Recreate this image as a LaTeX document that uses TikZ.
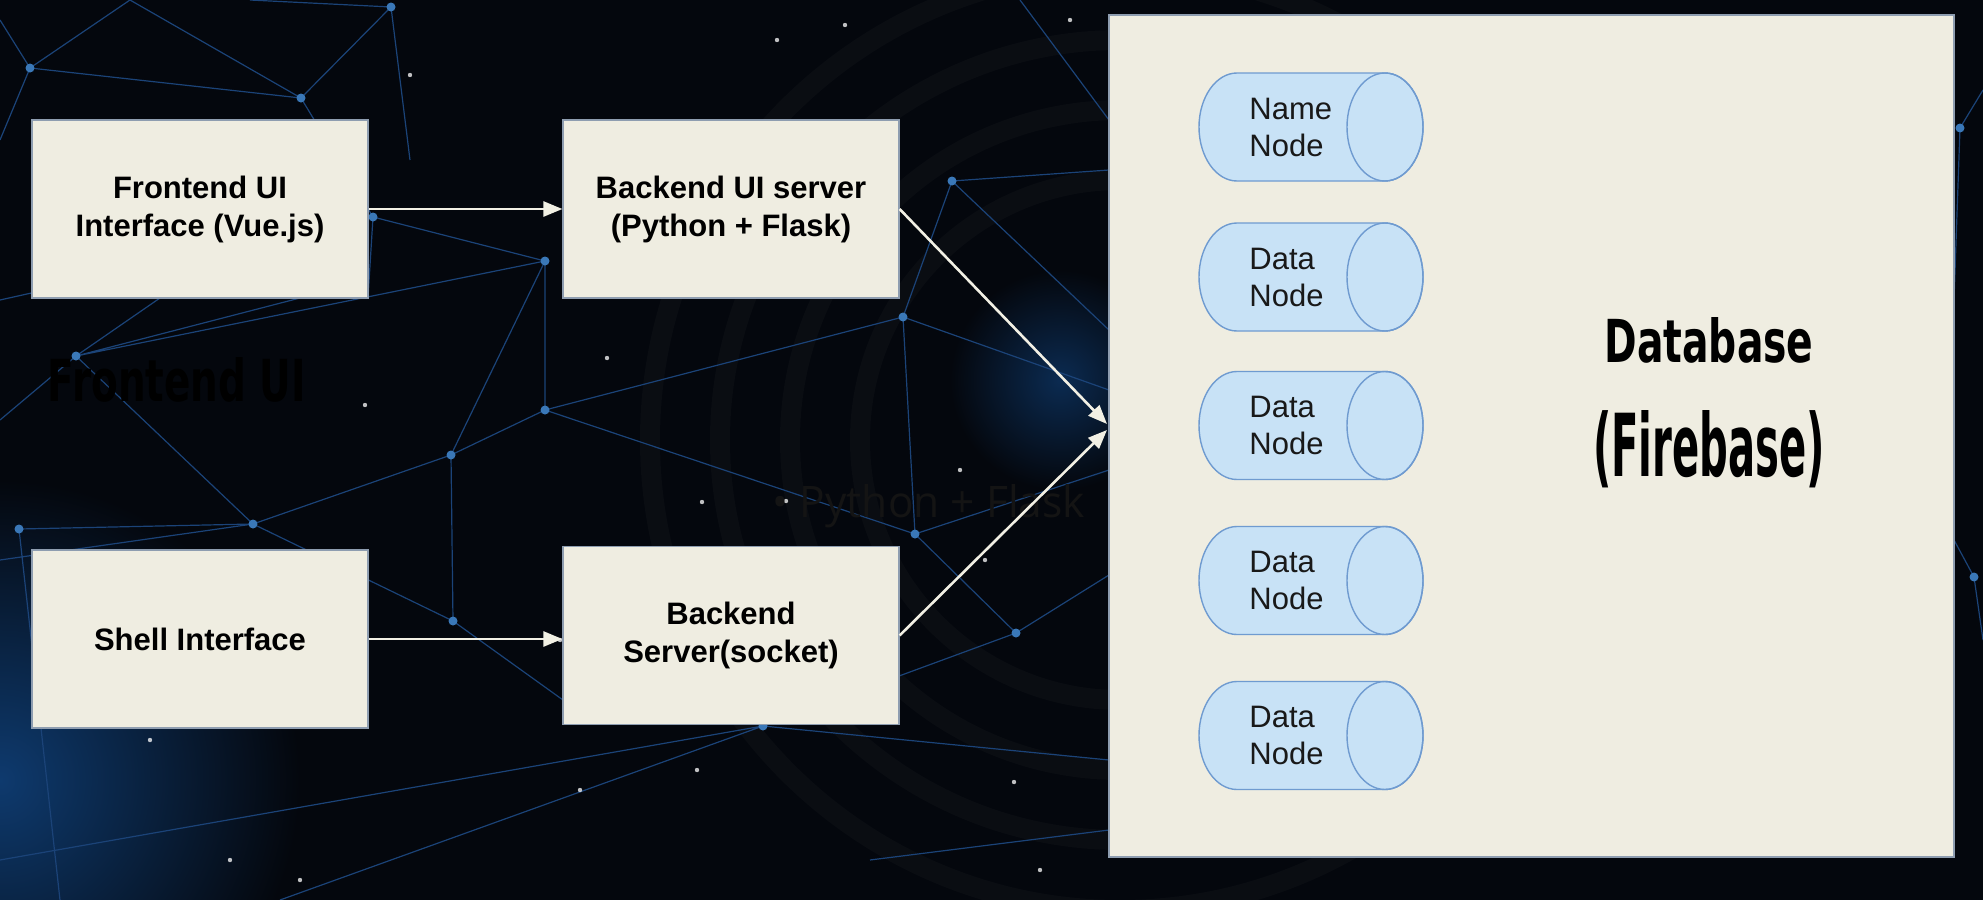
\documentclass[tikz,border=0pt]{standalone}
\usepackage{fontspec}
\setmainfont{Liberation Sans}
\newfontfamily\dispfont{DejaVu Sans}
\newfontfamily\bulletfont{Open Sans}
\usetikzlibrary{arrows.meta}
\definecolor{bgdark}{HTML}{04070D}
\definecolor{cream}{HTML}{EFEDE1}
\definecolor{cylfill}{HTML}{C8E2F6}
\definecolor{cyldraw}{HTML}{6F9BD0}
\definecolor{netblue}{HTML}{1B4378}
\definecolor{netdot}{HTML}{3A78B8}
\definecolor{arrowc}{HTML}{F2F0E4}
\definecolor{boxedge}{HTML}{8E9DB0}
\definecolor{glowblue}{HTML}{0E3A6E}
\definecolor{ringgray}{HTML}{1A1D22}
\tikzset{
  box/.style={draw=boxedge, line width=0.6pt, fill=cream, minimum width=168pt,
    minimum height=89pt, align=center, font=\fontsize{15.5pt}{19pt}\selectfont\bfseries,
    text=black, inner sep=0pt},
  dbbox/.style={draw=boxedge, line width=0.6pt, fill=cream, minimum width=422.5pt,
    minimum height=421pt, inner sep=0pt},
  arr/.style={draw=arrowc, line width=1.3pt, -{Triangle[length=9.5pt,width=7.5pt]}},
  net/.style={draw=netblue, line width=0.6pt},
  netpt/.style={fill=netdot},
  star/.style={fill=white, opacity=0.75},
  cyl/.style={fill=cylfill, draw=cyldraw, line width=0.7pt},
  cyltext/.style={align=left, font=\fontsize{15.5pt}{18.5pt}\selectfont, text=black!90,
    inner sep=0pt, anchor=west},
  disp/.style={font=\dispfont\bfseries, text=black, inner sep=0pt}
}
\begin{document}
\begin{tikzpicture}[x=0.5pt,y=-0.5pt]
\useasboundingbox (0,0) rectangle (1983,900);
% background
\fill[bgdark] (0,0) rectangle (1983,900);
\shade[inner color=glowblue, outer color=bgdark] (0,780) circle[radius=300];
\shade[inner color=glowblue!70!bgdark, outer color=bgdark] (1060,380) circle[radius=110];
\foreach \r in {260,330,400,470}{
  \draw[ringgray, line width=10pt, opacity=0.28] (1120,440) circle[radius=\r];
}
% network coordinates
\coordinate (A) at (30,68);
\coordinate (B) at (301,98);
\coordinate (C) at (391,7);
\coordinate (D) at (373,217);
\coordinate (E) at (545,261);
\coordinate (F) at (76,356);
\coordinate (G) at (545,410);
\coordinate (H) at (451,455);
\coordinate (I) at (253,524);
\coordinate (J) at (19,529);
\coordinate (K) at (453,621);
\coordinate (L) at (952,181);
\coordinate (M) at (903,317);
\coordinate (N) at (915,534);
\coordinate (O) at (1016,633);
\coordinate (P) at (763,726);
\coordinate (Q) at (1974,577);
\coordinate (R) at (1960,128);
\path[net]
  (0,20) -- (A) -- (B) -- (C) -- (250,0)
  (A) -- (0,140)
  (A) -- (130,0)
  (B) -- (D) -- (E) -- (G) -- (H) -- (I) -- (J)
  (D) -- (0,300)
  (B) -- (130,0)
  (C) -- (410,160)
  (F) -- (0,420)
  (F) -- (I)
  (F) -- (E)
  (F) -- (160,298)
  (F) -- (300,298)
  (I) -- (0,560)
  (I) -- (K) -- (H)
  (K) -- (563,700)
  (G) -- (M) -- (L) -- (1109,170)
  (L) -- (1109,330)
  (M) -- (1109,390)
  (G) -- (N) -- (O) -- (1109,575)
  (N) -- (1109,470)
  (N) -- (M)
  (O) -- (P) -- (280,900)
  (P) -- (0,860)
  (P) -- (1109,760)
  (J) -- (60,900)
  (H) -- (E)
  (D) -- (368,298)
  (Q) -- (1954,540)
  (Q) -- (1983,640)
  (R) -- (1983,90)
  (R) -- (1954,300)
  (1020,0) -- (1109,120)
  (870,860) -- (1109,830);
\foreach \p in {A,B,C,D,E,F,G,H,I,J,K,L,M,N,O,P,Q,R}{
  \fill[netpt] (\p) circle[radius=4.5];
}
\foreach \s in {(410,75),(777,40),(845,25),(607,358),(365,405),(702,502),(786,501),
  (560,640),(580,790),(697,770),(1014,782),(1040,870),(860,650),(985,560),(770,590),
  (150,740),(230,860),(300,880),(960,470),(1070,20),(700,180),(120,620)}{
  \fill[star] \s circle[radius=2.2];
}
% overlay label texts
\node[disp] (felabel) at (177,380) {\resizebox{129pt}{22pt}{Frontend UI}};
\node[inner sep=0pt, text=black!92] (pybullet) at (929,506)
  {\resizebox{156pt}{16.5pt}{\bulletfont • Python + Flask}};
% boxes
\node[box] (fe) at (200,209) {Frontend UI\\Interface (Vue.js)};
\node[box] (bui) at (731,209) {Backend UI server\\(Python + Flask)};
\node[box] (sh) at (200,639) {Shell Interface};
\node[box] (bs) at (731,635.5) {Backend\\Server(socket)};
\node[dbbox] (db) at (1531.5,436) {};
% database title
\node[disp] (dbt1) at (1709,340) {\resizebox{104.5pt}{22.5pt}{Database}};
\node[disp] (dbt2) at (1709,449) {\resizebox{116pt}{33pt}{(Firebase)}};
% cylinders
\foreach \c/\nm/\txt in {127/c1/Name, 277/c2/Data, 425.5/c3/Data, 580.5/c4/Data, 735.5/c5/Data}{
  \path[cyl] (1237,\c-54) -- (1385,\c-54)
     arc[start angle=90, end angle=-90, x radius=19pt, y radius=27pt]
     -- (1237,\c+54)
     arc[start angle=270, end angle=90, x radius=19pt, y radius=27pt] -- cycle;
  \draw[cyldraw, line width=0.7pt] (1385,\c) ellipse[x radius=19pt, y radius=27pt];
  \node[cyltext] (\nm) at (1249,\c) {\txt\\Node};
}
% connectors
\coordinate (t1) at (1107,424);
\coordinate (t2) at (1107,430);
\draw[arr] (fe.east) -- (bui.west);
\draw[arr] (sh.east) -- (sh.east -| bs.west);
\draw[arr] (bui.east) -- (t1);
\draw[arr] (bs.east) -- (t2);
\end{tikzpicture}
\end{document}
